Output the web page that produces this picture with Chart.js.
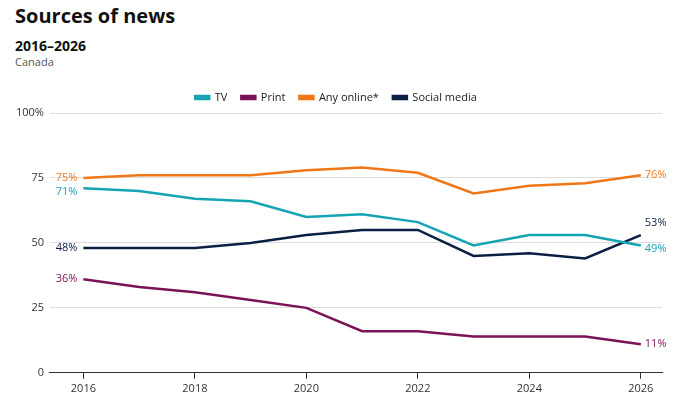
<!DOCTYPE html>
<html><head><meta charset="utf-8">
<script src="https://cdn.jsdelivr.net/npm/chart.js@4"></script>
<style>
body{margin:0;background:#fff;font-family:"Open Sans",sans-serif;}
#wrap{position:relative;width:680px;height:405px;}
h1{position:absolute;left:15px;top:2px;margin:0;font-size:20px;font-weight:700;color:#111;}
h2{position:absolute;left:15px;top:36px;margin:0;font-size:14px;font-weight:700;color:#111;}
.sub{position:absolute;left:15px;top:54px;font-size:11px;color:#555;}
#c{position:absolute;left:0;top:78px;}
</style></head><body>
<div id="wrap">
<h1>Sources of news</h1>
<h2>2016–2026</h2>
<div class="sub">Canada</div>
<canvas id="c" width="680" height="320"></canvas>
</div>
<script>
const years = [2016,2017,2018,2019,2020,2021,2022,2023,2024,2025,2026];
const tv = [71,70,67,66,60,61,58,49,53,53,49];
const print = [36,33,31,28,25,16,16,14,14,14,11];
const online = [75,76,76,76,78,79,77,69,72,73,76];
const social = [48,48,48,50,53,55,55,45,46,44,53];
const xTicks = [2016,2018,2020,2022,2024,2026];
const yTicks = [0,25,50,75,100];

function mk(label, vals, color){
  return {label, data: vals.map((v,i)=>({x:years[i],y:v})), borderColor:color, backgroundColor:color,
    borderWidth:2.5, pointRadius:0, tension:0};
}

const endLabels = {
  id:'endLabels',
  afterDatasetsDraw(chart){
    const ctx = chart.ctx;
    ctx.save();
    ctx.font = '11px "Open Sans"';
    ctx.textBaseline = 'middle';
    const offL = [4,0,0,0];
    const offR = [3,0,0,-12];
    chart.data.datasets.forEach((ds,i)=>{
      const meta = chart.getDatasetMeta(i);
      const f = meta.data[0], l = meta.data[meta.data.length-1];
      ctx.fillStyle = ds.borderColor;
      ctx.textAlign = 'right';
      ctx.fillText(ds.data[0].y+'%', f.x-6, f.y+offL[i]);
      ctx.textAlign = 'left';
      ctx.fillText(ds.data[ds.data.length-1].y+'%', l.x+4, l.y+offR[i]);
    });
    ctx.restore();
  }
};

new Chart(document.getElementById('c'), {
  type:'line',
  data:{datasets:[mk('TV',tv,'#14a4b4'),mk('Print',print,'#7b1157'),mk('Any online*',online,'#f07718'),mk('Social media',social,'#0b1f45')]},
  options:{
    responsive:false, animation:false,
    layout:{padding:{left:10,right:18,top:0,bottom:0}},
    plugins:{
      legend:{position:'top',labels:{boxWidth:14,boxHeight:3,padding:14,font:{size:11,family:'Open Sans'},color:'#222'}},
      tooltip:{enabled:false}
    },
    scales:{
      x:{type:'linear',min:2015.4,max:2026.38,
        afterBuildTicks(s){s.ticks = xTicks.map(v=>({value:v}));},
        grid:{display:true,drawOnChartArea:false,tickLength:6,color:'#333'},
        border:{color:'#333'},
        ticks:{color:'#333',font:{size:11,family:'Open Sans'},callback:v=>String(v)}},
      y:{min:0,max:100,
        afterBuildTicks(s){s.ticks = yTicks.map(v=>({value:v}));},
        grid:{color:c=>c.tick.value===0?'#333':'#ddd',drawTicks:false},
        border:{display:false},
        ticks:{color:'#333',padding:6,font:{size:11,family:'Open Sans'},callback:v=>v===100?'100%':String(v)}}
    }
  },
  plugins:[endLabels]
});
</script>
</body></html>
